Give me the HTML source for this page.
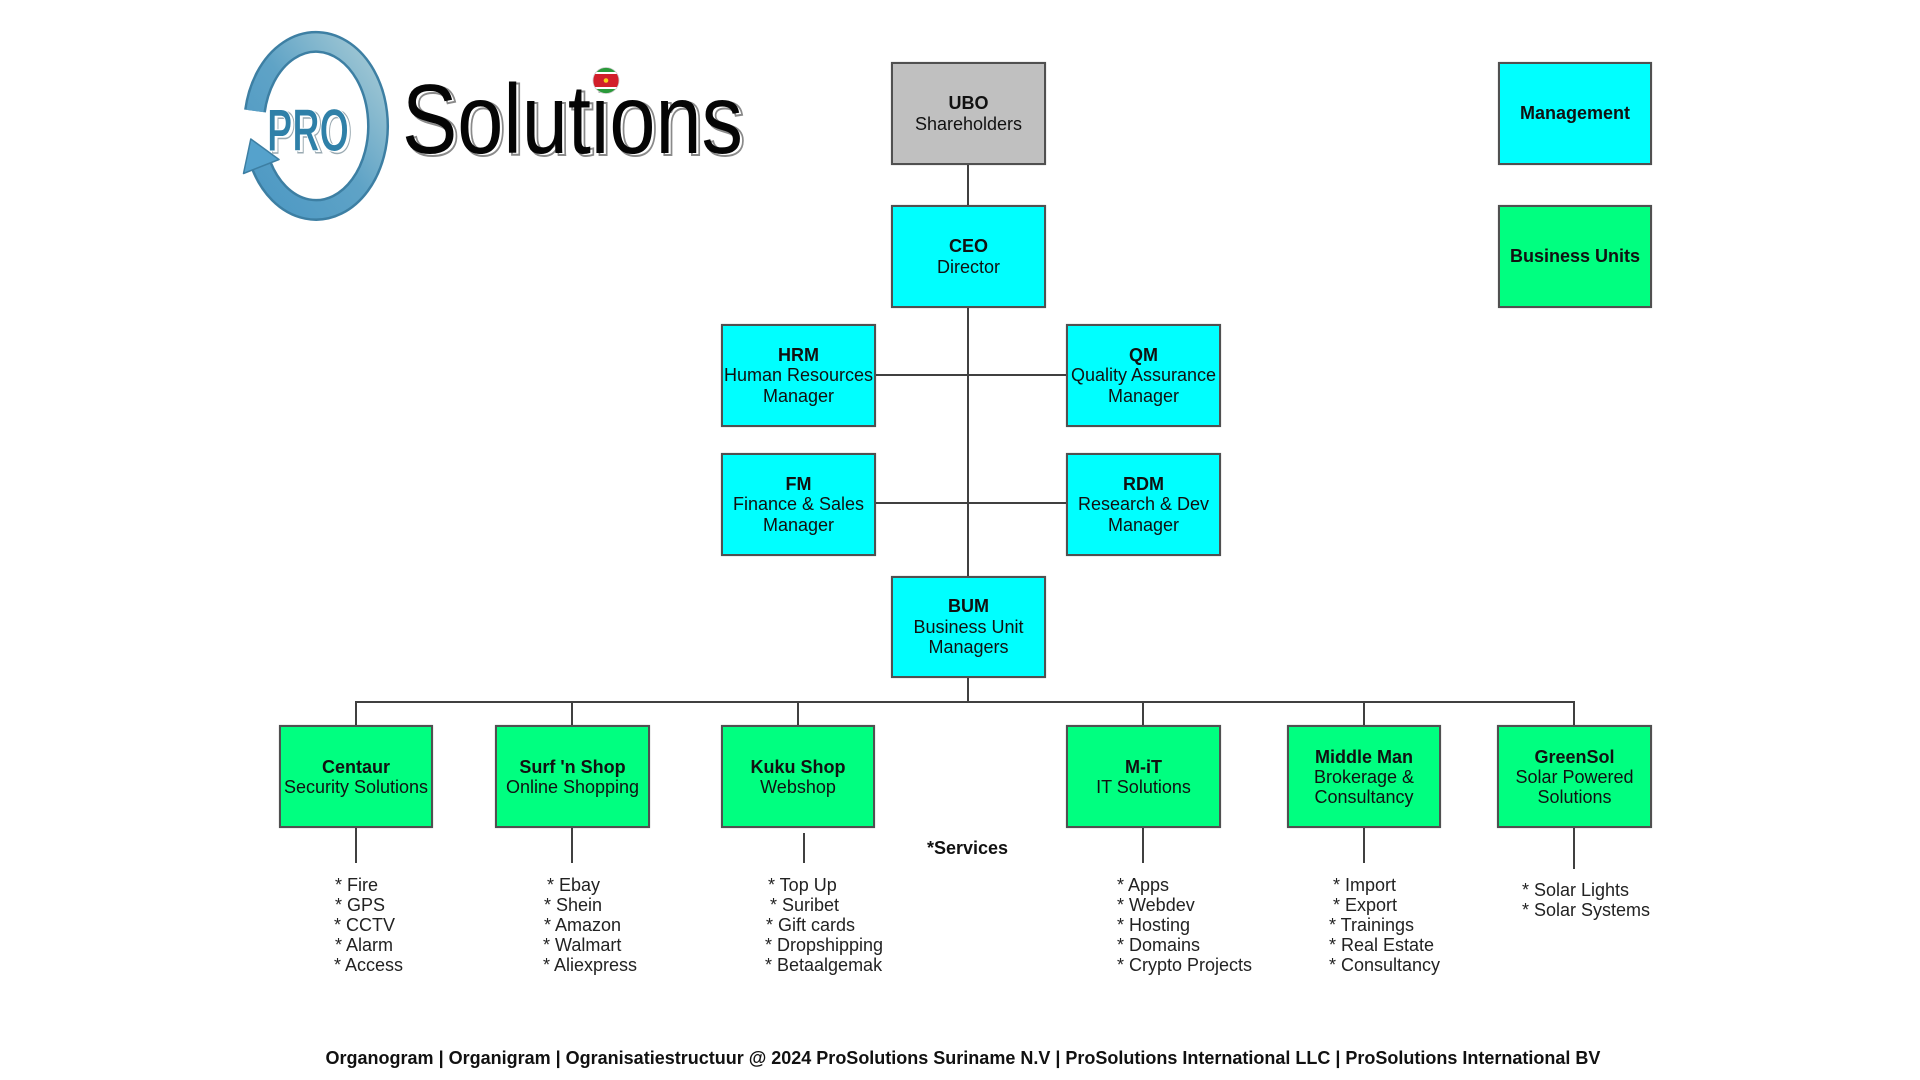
<!DOCTYPE html>
<html>
<head>
<meta charset="utf-8">
<style>
  html,body{margin:0;padding:0;background:#fff;}
  #c{position:relative;width:1920px;height:1080px;overflow:hidden;background:#fff;font-family:"Liberation Sans",Arial,sans-serif;color:#111;}
  .b{position:absolute;box-sizing:border-box;border:2px solid #505050;display:flex;flex-direction:column;justify-content:center;align-items:center;text-align:center;font-size:18px;line-height:20.5px;white-space:nowrap;box-shadow:0 0 1px rgba(0,0,0,0.35);}
  .cy{background:#00ffff;}
  .gr{background:#00ff80;}
  .gy{background:#c0c0c0;}
  .b b{font-weight:bold;}
  .l{position:absolute;font-size:18px;line-height:20px;white-space:nowrap;color:#222;}
  .ft{position:absolute;left:0;width:1926px;top:1047px;text-align:center;font-size:18px;font-weight:bold;line-height:22px;white-space:nowrap;color:#111;}
</style>
</head>
<body>
<div id="c">
<svg width="1920" height="1080" style="position:absolute;left:0;top:0" xmlns="http://www.w3.org/2000/svg">
  <defs>
    <linearGradient id="rg" x1="0" y1="1" x2="1" y2="0">
      <stop offset="0" stop-color="#4c98c4"/>
      <stop offset="0.5" stop-color="#5fa3c6"/>
      <stop offset="1" stop-color="#a9ccd6"/>
    </linearGradient>
    <clipPath id="fc"><circle cx="606" cy="80.5" r="13"/></clipPath>
  </defs>
  <!-- logo ring -->
  <path d="M255,111 A62,84 0 1 1 261.3,165.4" fill="none" stroke="#3d7fa3" stroke-width="22" stroke-linecap="butt"/>
  <path d="M255,111 A62,84 0 1 1 261.3,165.4" fill="none" stroke="url(#rg)" stroke-width="17" stroke-linecap="butt"/>
  <polygon points="250.8,139 279,159.5 243.5,173.5" fill="#55a2cc" stroke="#3d7fa3" stroke-width="1.5" stroke-linejoin="round"/>
  <!-- PRO -->
  <text x="270" y="153" font-family="Liberation Sans, sans-serif" font-size="60" font-weight="bold" textLength="82" lengthAdjust="spacingAndGlyphs" fill="#ffffff" stroke="#9aaab2" stroke-width="1.5">PRO</text>
  <text x="267" y="151" font-family="Liberation Sans, sans-serif" font-size="60" font-weight="bold" textLength="82" lengthAdjust="spacingAndGlyphs" fill="#2f80a8" stroke="#ffffff" stroke-width="1">PRO</text>
  <!-- Solutions -->
  <text x="405" y="155" font-family="Liberation Sans, sans-serif" font-size="98" textLength="341" lengthAdjust="spacingAndGlyphs" fill="#ffffff" stroke="#8a8a8a" stroke-width="2">Solutions</text>
  <text x="402" y="153" font-family="Liberation Sans, sans-serif" font-size="98" textLength="341" lengthAdjust="spacingAndGlyphs" fill="#050505">Solutions</text>
  <!-- flag -->
  <g clip-path="url(#fc)">
    <rect x="590" y="66" width="32" height="30" fill="#fff"/>
    <rect x="590" y="66" width="32" height="6" fill="#2a9a3a"/>
    <rect x="590" y="74" width="32" height="13" fill="#d2202a"/>
    <rect x="590" y="89" width="32" height="7" fill="#2a9a3a"/>
    <circle cx="606" cy="80.5" r="2.3" fill="#f7d21a"/>
  </g>
  <circle cx="606" cy="80.5" r="13" fill="none" stroke="#cccccc" stroke-width="0.8"/>
  <!-- connectors -->
  <g stroke="#404040" stroke-width="2" fill="none">
    <line x1="968" y1="165" x2="968" y2="205"/>
    <line x1="968" y1="308" x2="968" y2="576"/>
    <line x1="876" y1="375" x2="1066" y2="375"/>
    <line x1="876" y1="503" x2="1066" y2="503"/>
    <line x1="968" y1="678" x2="968" y2="702"/>
    <line x1="355" y1="702" x2="1575" y2="702"/>
    <line x1="356" y1="702" x2="356" y2="725"/>
    <line x1="572" y1="702" x2="572" y2="725"/>
    <line x1="798" y1="702" x2="798" y2="725"/>
    <line x1="1143" y1="702" x2="1143" y2="725"/>
    <line x1="1364" y1="702" x2="1364" y2="725"/>
    <line x1="1574" y1="702" x2="1574" y2="725"/>
    <line x1="356" y1="828" x2="356" y2="863"/>
    <line x1="572" y1="828" x2="572" y2="863"/>
    <line x1="804" y1="833" x2="804" y2="863"/>
    <line x1="1143" y1="828" x2="1143" y2="863"/>
    <line x1="1364" y1="828" x2="1364" y2="863"/>
    <line x1="1574" y1="828" x2="1574" y2="869"/>
  </g>
</svg>

<div class="b gy" style="left:891px;top:62px;width:155px;height:103px;"><b>UBO</b><span>Shareholders</span></div>
<div class="b cy" style="left:891px;top:205px;width:155px;height:103px;"><b>CEO</b><span>Director</span></div>
<div class="b cy" style="left:721px;top:324px;width:155px;height:103px;"><b>HRM</b><span>Human Resources</span><span>Manager</span></div>
<div class="b cy" style="left:1066px;top:324px;width:155px;height:103px;"><b>QM</b><span>Quality Assurance</span><span>Manager</span></div>
<div class="b cy" style="left:721px;top:453px;width:155px;height:103px;"><b>FM</b><span>Finance &amp; Sales</span><span>Manager</span></div>
<div class="b cy" style="left:1066px;top:453px;width:155px;height:103px;"><b>RDM</b><span>Research &amp; Dev</span><span>Manager</span></div>
<div class="b cy" style="left:891px;top:576px;width:155px;height:102px;"><b>BUM</b><span>Business Unit</span><span>Managers</span></div>

<div class="b cy" style="left:1498px;top:62px;width:154px;height:103px;"><b>Management</b></div>
<div class="b gr" style="left:1498px;top:205px;width:154px;height:103px;"><b>Business Units</b></div>

<div class="b gr" style="left:279px;top:725px;width:154px;height:103px;line-height:20px;"><b>Centaur</b><span>Security Solutions</span></div>
<div class="b gr" style="left:495px;top:725px;width:155px;height:103px;line-height:20px;"><b>Surf 'n Shop</b><span>Online Shopping</span></div>
<div class="b gr" style="left:721px;top:725px;width:154px;height:103px;line-height:20px;"><b>Kuku Shop</b><span>Webshop</span></div>
<div class="b gr" style="left:1066px;top:725px;width:155px;height:103px;line-height:20px;"><b>M-iT</b><span>IT Solutions</span></div>
<div class="b gr" style="left:1287px;top:725px;width:154px;height:103px;line-height:20px;"><b>Middle Man</b><span>Brokerage &amp;</span><span>Consultancy</span></div>
<div class="b gr" style="left:1497px;top:725px;width:155px;height:103px;line-height:20px;"><b>GreenSol</b><span>Solar Powered</span><span>Solutions</span></div>

<div class="l" style="left:927px;top:838px;font-weight:bold;color:#111;">*Services</div>

<!-- Centaur -->
<div class="l" style="left:335px;top:875px;">* Fire</div>
<div class="l" style="left:335px;top:895px;">* GPS</div>
<div class="l" style="left:334px;top:915px;">* CCTV</div>
<div class="l" style="left:335px;top:935px;">* Alarm</div>
<div class="l" style="left:334px;top:955px;">* Access</div>
<!-- Surf -->
<div class="l" style="left:547px;top:875px;">* Ebay</div>
<div class="l" style="left:544px;top:895px;">* Shein</div>
<div class="l" style="left:544px;top:915px;">* Amazon</div>
<div class="l" style="left:543px;top:935px;">* Walmart</div>
<div class="l" style="left:543px;top:955px;">* Aliexpress</div>
<!-- Kuku -->
<div class="l" style="left:768px;top:875px;">* Top Up</div>
<div class="l" style="left:770px;top:895px;">* Suribet</div>
<div class="l" style="left:766px;top:915px;">* Gift cards</div>
<div class="l" style="left:765px;top:935px;">* Dropshipping</div>
<div class="l" style="left:765px;top:955px;">* Betaalgemak</div>
<!-- M-iT -->
<div class="l" style="left:1117px;top:875px;">* Apps</div>
<div class="l" style="left:1117px;top:895px;">* Webdev</div>
<div class="l" style="left:1117px;top:915px;">* Hosting</div>
<div class="l" style="left:1117px;top:935px;">* Domains</div>
<div class="l" style="left:1117px;top:955px;">* Crypto Projects</div>
<!-- Middle Man -->
<div class="l" style="left:1333px;top:875px;">* Import</div>
<div class="l" style="left:1333px;top:895px;">* Export</div>
<div class="l" style="left:1329px;top:915px;">* Trainings</div>
<div class="l" style="left:1329px;top:935px;">* Real Estate</div>
<div class="l" style="left:1329px;top:955px;">* Consultancy</div>
<!-- GreenSol -->
<div class="l" style="left:1522px;top:880px;">* Solar Lights</div>
<div class="l" style="left:1522px;top:900px;">* Solar Systems</div>

<div class="ft">Organogram | Organigram | Ogranisatiestructuur @ 2024 ProSolutions Suriname N.V | ProSolutions International LLC | ProSolutions International BV</div>
</div>
</body>
</html>
